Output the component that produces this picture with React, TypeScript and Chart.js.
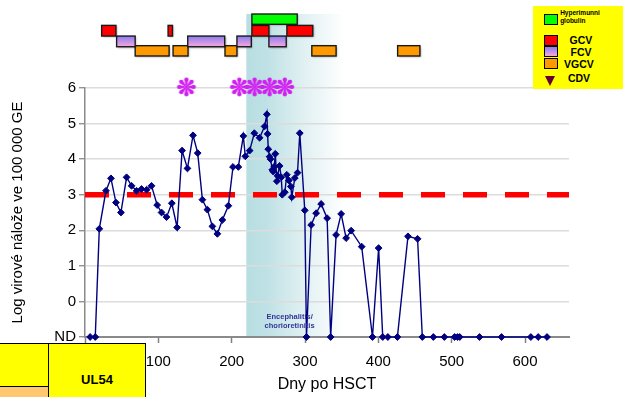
import React, { useEffect, useRef } from 'react';
import { Chart, registerables } from 'chart.js';

Chart.register(...registerables);

// ---- Data ----
const dayValues: number[] = [
  7, 14, 19.5, 28.6, 35.4, 42.2, 49, 56.7, 63.5, 70.3, 77.1, 84, 90.7, 98.4, 104.4, 111.2, 118.4, 125.6,
  132.4, 139.7, 147.3, 153.7, 160.1, 166.9, 173.7, 180.5, 187.3, 195.5, 201.8, 209.1, 215.9, 218.6, 224.5,
  230.9, 238.1, 244.9, 248, 249, 249.9, 251.7, 253, 255.4, 256.7, 258.1, 259.5, 261.6, 262.6, 265.3, 267.6,
  269, 272.5, 275.2, 278, 280.7, 282, 286.1, 289.8, 292.9, 299.7, 302, 308.4, 315.2, 322, 330.2, 335, 342.4,
  349.3, 356.1, 362.9, 377.3, 392, 400.4, 406, 413, 426, 440.4, 453.5, 460, 475, 490, 504, 508, 511, 538,
  568, 608, 618, 630,
];
const logLoads: number[] = [
  -1, -1, 2.04, 3.11, 3.46, 2.78, 2.5, 3.49, 3.25, 3.11, 3.16, 3.14, 3.25, 2.71, 2.5, 2.37, 2.76, 2.08,
  4.24, 3.74, 4.67, 4.17, 2.86, 2.58, 2.11, 1.9, 2.29, 2.69, 3.78, 3.78, 4.65, 4.08, 4.24,
  4.73, 4.6, 4.92, 5.26, 4.71, 4.28, 4.07, 4.0, 3.7, 3.65, 3.79, 4.15, 3.38, 3.53, 3.81, 3.49,
  3.0, 3.07, 3.56, 3.4, 3.23, 2.93, 3.47, 3.62, 4.73, 2.56, -1, 2.15, 2.48, 2.74, 2.34, -1, 1.87,
  2.46, 1.78, 1.99, 1.54, -1, 1.5, -1, -1, -1, 1.83, 1.76, -1, -1, -1, -1, -1, -1, -1,
  -1, -1, -1, -1,
];
const thresholdLog = 3;
const yTickValues = [-1, 0, 1, 2, 3, 4, 5, 6];
const xTickValues = [0, 100, 200, 300, 400, 500, 600];

// therapy intervals (days after HSCT)
const higDays: [number, number][] = [[227.6, 289.4]];
const gcvDays: [number, number][] = [[22.7, 42.2], [113.3, 119.3], [227.6, 250.8], [275.3, 310.6]];
const fcvDays: [number, number][] = [[43.1, 68.4], [140.1, 190.5], [207.2, 226.8], [250.8, 274.4]];
const vgcvDays: [number, number][] = [[68.4, 114.7], [120.1, 140.5], [190.9, 207.2], [309.3, 342.4], [426.3, 456.7]];
const cdvDays: number[] = [233.6, 245.8, 257.6, 269.8, 294.8];
const asteriskDays: number[] = [138.3, 210.5, 231.3, 251.7, 272.4];
const illnessDays: [number, number] = [220, 354];

// ---- Styling / layout constants ----
const FONT = "'Liberation Sans', Arial, sans-serif";
const ROW_HIG: [number, number] = [7.79, 8.08];
const ROW_GCV: [number, number] = [7.46, 7.76];
const ROW_FCV: [number, number] = [7.16, 7.46];
const ROW_VGCV: [number, number] = [6.9, 7.19];
const CDV_Y = 6.77;
const ASTERISK_Y = 6.03;
const SHADE_TOP = 8.08;
const MAGENTA = '#d020f0';
const CDV_COLOR = '#660033';

function makeAsterisk(color: string): HTMLCanvasElement {
  const size = 22;
  const c = document.createElement('canvas');
  c.width = size;
  c.height = size;
  const g = c.getContext('2d')!;
  g.fillStyle = color;
  const cx = size / 2;
  const cy = size / 2;
  const R = 7.4;
  const r = 2.1;
  for (let i = 0; i < 8; i++) {
    const a = (i * Math.PI) / 4;
    const ux = Math.sin(a);
    const uy = -Math.cos(a);
    const px = -uy;
    const py = ux;
    g.beginPath();
    g.moveTo(cx + px * 0.35, cy + py * 0.35);
    g.lineTo(cx + ux * R + px * r, cy + uy * R + py * r);
    g.lineTo(cx + ux * R - px * r, cy + uy * R - py * r);
    g.lineTo(cx - px * 0.35, cy - py * 0.35);
    g.closePath();
    g.fill();
    g.beginPath();
    g.arc(cx + ux * R, cy + uy * R, r, 0, Math.PI * 2);
    g.fill();
  }
  return c;
}

const overlayPlugin = {
  id: 'therapyOverlay',
  beforeDraw(chart: any) {
    const { ctx, scales } = chart;
    const x = scales.x;
    const y = scales.y;
    const x0 = x.getPixelForValue(illnessDays[0]);
    const x1 = x.getPixelForValue(illnessDays[1]);
    const yTop = y.getPixelForValue(SHADE_TOP);
    const yBot = y.getPixelForValue(-1);
    ctx.save();
    const grad = ctx.createLinearGradient(x0, 0, x1, 0);
    grad.addColorStop(0, 'rgb(184,222,226)');
    grad.addColorStop(0.2, 'rgb(190,225,229)');
    grad.addColorStop(0.55, 'rgb(222,239,241)');
    grad.addColorStop(1, 'rgb(255,255,255)');
    ctx.fillStyle = grad;
    ctx.fillRect(x0, yTop, x1 - x0, yBot - yTop);
    ctx.restore();
  },
  afterDraw(chart: any) {
    const { ctx, scales } = chart;
    const x = scales.x;
    const y = scales.y;
    const drawRow = (ranges: [number, number][], row: [number, number], fill: (t: number, b: number) => any) => {
      const top = y.getPixelForValue(row[1]);
      const bot = y.getPixelForValue(row[0]);
      for (const [a, b] of ranges) {
        const l = x.getPixelForValue(a);
        const r = x.getPixelForValue(b);
        ctx.save();
        ctx.shadowColor = 'rgba(0,0,0,0.35)';
        ctx.shadowBlur = 2;
        ctx.shadowOffsetX = 1;
        ctx.shadowOffsetY = 1;
        ctx.fillStyle = fill(top, bot);
        ctx.fillRect(l, top, r - l, bot - top);
        ctx.restore();
        ctx.save();
        ctx.strokeStyle = '#1a1a1a';
        ctx.lineWidth = 1.4;
        ctx.strokeRect(l, top, r - l, bot - top);
        ctx.restore();
      }
    };
    drawRow(vgcvDays, ROW_VGCV, () => '#ff9900');
    drawRow(fcvDays, ROW_FCV, (t, b) => {
      const g = ctx.createLinearGradient(0, t, 0, b);
      g.addColorStop(0, '#8a7cf2');
      g.addColorStop(1, '#f6a8dc');
      return g;
    });
    drawRow(gcvDays, ROW_GCV, () => '#ff0000');
    drawRow(higDays, ROW_HIG, () => '#00ff00');

    // illness label
    const cx = x.getPixelForValue(279);
    ctx.save();
    ctx.fillStyle = '#333399';
    ctx.font = `bold 7.5px ${FONT}`;
    ctx.textAlign = 'center';
    ctx.textBaseline = 'middle';
    ctx.fillText('Encephalitis/', cx, y.getPixelForValue(-0.45));
    ctx.fillText('chorioretinitis', cx, y.getPixelForValue(-0.68));
    ctx.restore();
  },
};

export default function App() {
  const canvasRef = useRef<HTMLCanvasElement | null>(null);

  useEffect(() => {
    if (!canvasRef.current) return;
    const asterisk = makeAsterisk(MAGENTA);
    const chart = new Chart(canvasRef.current, {
      type: 'line',
      data: {
        datasets: [
          {
            label: 'Virová nálož',
            data: dayValues.map((d, i) => ({ x: d, y: logLoads[i] })),
            borderColor: '#000080',
            backgroundColor: '#000080',
            borderWidth: 1.4,
            pointStyle: 'rectRot',
            pointRadius: 3.4,
            pointBorderWidth: 1,
            tension: 0,
            order: 1,
            clip: false as any,
          },
          {
            label: 'Práh',
            data: [
              { x: 0, y: thresholdLog },
              { x: 660, y: thresholdLog },
            ],
            borderColor: '#ff0000',
            borderWidth: 5.5,
            borderDash: [24, 18],
            pointRadius: 0,
            order: 2,
          },
          {
            label: 'CDV',
            data: cdvDays.map((d) => ({ x: d, y: CDV_Y })),
            showLine: false,
            pointStyle: 'triangle',
            rotation: 180,
            pointRadius: 6.6,
            backgroundColor: CDV_COLOR,
            borderColor: CDV_COLOR,
            borderWidth: 1,
            clip: false as any,
            order: 0,
          },
          {
            label: 'asterisk',
            data: asteriskDays.map((d) => ({ x: d, y: ASTERISK_Y })),
            showLine: false,
            pointStyle: asterisk as any,
            pointRadius: 10,
            clip: false as any,
            order: 0,
          },
        ],
      },
      options: {
        animation: false,
        responsive: false,
        devicePixelRatio: 1,
        layout: { padding: { top: 88, right: 54, left: 0, bottom: 0 } },
        plugins: { legend: { display: false }, tooltip: { enabled: false } },
        scales: {
          x: {
            type: 'linear',
            min: 0,
            max: 660,
            afterBuildTicks: (s: any) => {
              s.ticks = xTickValues.map((v) => ({ value: v }));
            },
            ticks: {
              color: '#000',
              font: { family: FONT, size: 15 },
              padding: 10,
              maxRotation: 0,
              autoSkip: false,
            },
            grid: { drawOnChartArea: false, drawTicks: true, tickLength: 6, tickColor: '#808080', tickWidth: 1.5 },
            border: { color: '#8a8a8a', width: 2 },
            title: {
              display: true,
              text: 'Dny po HSCT',
              color: '#000',
              font: { family: FONT, size: 16, lineHeight: 1.2 },
              padding: { top: 0, bottom: 3 },
            },
            afterFit: (s: any) => {
              s.height = 60;
            },
          },
          y: {
            type: 'linear',
            min: -1,
            max: 6,
            afterBuildTicks: (s: any) => {
              s.ticks = yTickValues.map((v) => ({ value: v }));
            },
            ticks: {
              color: '#000',
              font: { family: FONT, size: 15 },
              padding: 3,
              callback: (v: any) => (v === -1 ? 'ND' : String(v)),
            },
            grid: { color: '#dcdcdc', lineWidth: 1.5, tickColor: '#808080', tickLength: 6, tickWidth: 1.2 },
            border: { color: '#8a8a8a', width: 1.5 },
            title: {
              display: true,
              text: 'Log virové nálože ve 100 000 GE',
              color: '#000',
              font: { family: FONT, size: 15, lineHeight: 1.2 },
              padding: { top: 9, bottom: 0 },
            },
            afterFit: (s: any) => {
              s.width = 85;
            },
          },
        },
      } as any,
      plugins: [overlayPlugin],
    });
    return () => chart.destroy();
  }, []);

  const legendText: React.CSSProperties = {
    position: 'absolute',
    fontFamily: FONT,
    fontWeight: 'bold',
    color: '#000',
    whiteSpace: 'nowrap',
    transform: 'translate(-50%, -50%)',
    lineHeight: 1,
  };
  const box = (top: number, bg: string): React.CSSProperties => ({
    position: 'absolute',
    left: 11,
    top,
    width: 12,
    height: 9,
    background: bg,
    border: '1px solid #000',
  });

  return (
    <div style={{ position: 'fixed', left: 0, top: 0, width: 623, height: 397, overflow: 'hidden', background: '#fff' }}>
      <canvas ref={canvasRef} width={623} height={397} style={{ position: 'absolute', left: 0, top: 0 }} />
      {/* legend */}
      <div style={{ position: 'absolute', left: 533, top: 6, width: 90, height: 83, background: '#ffff00' }}>
        <div style={box(8, '#00ff00')} />
        <div style={{ ...legendText, left: 47, top: 11, fontSize: 6.5, textAlign: 'left', transform: 'translate(-50%, -50%)' }}>
          Hyperimunni
          <br />
          <span style={{ display: 'inline-block', marginTop: 1 }}>globulin</span>
        </div>
        <div style={box(29, '#ff0000')} />
        <div style={{ ...legendText, left: 48, top: 34, fontSize: 10.5 }}>GCV</div>
        <div style={box(40, 'linear-gradient(#8a7cf2, #f6a8dc)')} />
        <div style={{ ...legendText, left: 48, top: 46, fontSize: 10.5 }}>FCV</div>
        <div style={box(52, '#ff9900')} />
        <div style={{ ...legendText, left: 46, top: 57.5, fontSize: 10.5 }}>VGCV</div>
        <div
          style={{
            position: 'absolute',
            left: 12,
            top: 70,
            width: 0,
            height: 0,
            borderLeft: '5.5px solid transparent',
            borderRight: '5.5px solid transparent',
            borderTop: '10px solid ' + CDV_COLOR,
          }}
        />
        <div style={{ ...legendText, left: 46, top: 72, fontSize: 10.5 }}>CDV</div>
      </div>
      {/* bottom-left table fragment */}
      <div
        style={{
          position: 'absolute',
          left: 0,
          top: 343,
          width: 145,
          height: 70,
          borderTop: '1px solid #000',
          borderRight: '1px solid #000',
          background: '#ffff00',
        }}
      >
        <div style={{ position: 'absolute', left: 48, top: 0, width: 1, height: 70, background: '#000' }} />
        <div
          style={{
            position: 'absolute',
            left: 0,
            top: 42,
            width: 48,
            height: 30,
            background: '#ffc870',
            borderTop: '1px solid #000',
          }}
        />
        <div
          style={{
            position: 'absolute',
            left: 97,
            top: 35,
            transform: 'translate(-50%, -50%)',
            fontFamily: FONT,
            fontWeight: 'bold',
            fontSize: 13,
            color: '#000',
          }}
        >
          UL54
        </div>
      </div>
    </div>
  );
}
